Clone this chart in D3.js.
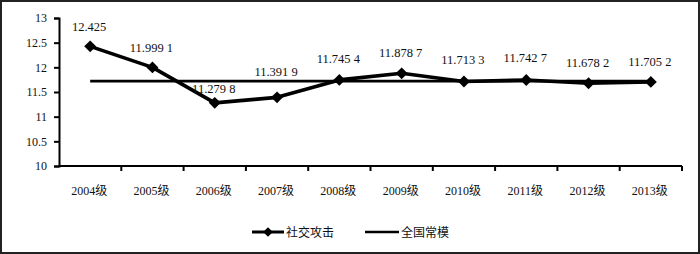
<!DOCTYPE html>
<html>
<head>
<meta charset="utf-8">
<script src="https://cdn.jsdelivr.net/npm/d3@7"></script>
<style>
  body { margin: 0; background: #fff; }
  svg { display: block; }
  text { font-family: "Liberation Serif", "Noto Sans CJK SC", serif; fill: #111; }
</style>
</head>
<body>
<div id="chart"></div>
<script>
// data
const grades = ["2004级", "2005级", "2006级", "2007级", "2008级", "2009级", "2010级", "2011级", "2012级", "2013级"];
const socialAttack = [12.425, 11.9991, 11.2798, 11.3919, 11.7454, 11.8787, 11.7133, 11.7427, 11.6782, 11.7052];
const valueLabels = ["12.425", "11.999 1", "11.279 8", "11.391 9", "11.745 4", "11.878 7", "11.713 3", "11.742 7", "11.678 2", "11.705 2"];
const nationalNorm = 11.72;
const yTicks = [10, 10.5, 11, 11.5, 12, 12.5, 13];
const seriesNames = ["社交攻击", "全国常模"];

// label nudges (labels in the original were dragged a little by hand)
const labelLift = [19, 19, 14, 25, 21, 20, 21, 22, 20, 20];

const W = 700, H = 254;
const margin = { top: 18, right: 18, bottom: 88, left: 59 };

const svg = d3.select("#chart").append("svg")
    .attr("width", W)
    .attr("height", H);

// outer frame
svg.append("rect")
    .attr("x", 1).attr("y", 1)
    .attr("width", W - 2).attr("height", H - 2)
    .attr("fill", "none")
    .attr("stroke", "#222")
    .attr("stroke-width", 2);

const x = d3.scaleBand()
    .domain(grades)
    .range([margin.left, W - margin.right])
    .paddingInner(0).paddingOuter(0);

const y = d3.scaleLinear()
    .domain([10, 13])
    .range([H - margin.bottom, margin.top]);

const cx = d => x(d) + x.bandwidth() / 2;

// y axis
const yAxis = svg.append("g")
    .attr("transform", `translate(${margin.left},0)`)
    .call(d3.axisLeft(y).tickValues(yTicks).tickSize(5).tickPadding(7).tickFormat(d3.format("")));
yAxis.select(".domain").attr("stroke", "#000").attr("stroke-width", 2);
yAxis.selectAll(".tick line").attr("stroke", "#000").attr("stroke-width", 2);
yAxis.selectAll("text")
    .style("font-size", "12px")
    .style("font-family", "'Liberation Serif', serif");

// x axis (ticks at category boundaries)
const xAxisG = svg.append("g")
    .attr("transform", `translate(0,${y(10)})`);
xAxisG.append("line")
    .attr("x1", margin.left).attr("x2", W - margin.right)
    .attr("stroke", "#000").attr("stroke-width", 2);
const bounds = grades.map(g => x(g)).concat([x(grades[grades.length - 1]) + x.bandwidth()]);
xAxisG.selectAll(".xtick")
    .data(bounds.slice(1))
    .enter().append("line")
    .attr("class", "xtick")
    .attr("x1", d => d).attr("x2", d => d)
    .attr("y1", 0).attr("y2", 5)
    .attr("stroke", "#000").attr("stroke-width", 2);
xAxisG.selectAll(".xlabel")
    .data(grades)
    .enter().append("text")
    .attr("class", "xlabel")
    .attr("x", d => cx(d) - 1)
    .attr("y", 29)
    .attr("text-anchor", "middle")
    .style("font-size", "12px")
    .text(d => d);

// national norm line
svg.append("line")
    .attr("x1", cx(grades[0]))
    .attr("x2", cx(grades[grades.length - 1]))
    .attr("y1", y(nationalNorm))
    .attr("y2", y(nationalNorm))
    .attr("stroke", "#000")
    .attr("stroke-width", 2.7);

// social attack series
const line = d3.line()
    .x((d, i) => cx(grades[i]))
    .y(d => y(d));

svg.append("path")
    .datum(socialAttack)
    .attr("d", line)
    .attr("fill", "none")
    .attr("stroke", "#000")
    .attr("stroke-width", 3.6)
    .attr("stroke-linejoin", "round");

const diamond = d3.symbol().type(d3.symbolDiamond2).size(90);

svg.selectAll(".marker")
    .data(socialAttack)
    .enter().append("path")
    .attr("class", "marker")
    .attr("d", diamond)
    .attr("transform", (d, i) => `translate(${cx(grades[i])},${y(d)})`)
    .attr("fill", "#000");

svg.selectAll(".vlabel")
    .data(socialAttack)
    .enter().append("text")
    .attr("class", "vlabel")
    .attr("x", (d, i) => cx(grades[i]) - 1)
    .attr("y", (d, i) => y(d) - labelLift[i] + 4)
    .attr("text-anchor", "middle")
    .style("font-size", "12.5px")
    .text((d, i) => valueLabels[i]);

// legend
const legend = svg.append("g").attr("transform", `translate(252,${H - 22})`);
legend.append("line")
    .attr("x1", 0).attr("x2", 32)
    .attr("stroke", "#000").attr("stroke-width", 3);
legend.append("path")
    .attr("d", d3.symbol().type(d3.symbolDiamond2).size(60))
    .attr("transform", "translate(16,0)")
    .attr("fill", "#000");
legend.append("text")
    .attr("x", 34).attr("y", 4.5)
    .style("font-size", "12px")
    .style("font-family", "'Noto Sans CJK SC', sans-serif")
    .text(seriesNames[0]);

legend.append("line")
    .attr("x1", 113).attr("x2", 147)
    .attr("stroke", "#000").attr("stroke-width", 2.7);
legend.append("text")
    .attr("x", 149).attr("y", 4.5)
    .style("font-size", "12px")
    .style("font-family", "'Noto Sans CJK SC', sans-serif")
    .text(seriesNames[1]);
</script>
</body>
</html>
